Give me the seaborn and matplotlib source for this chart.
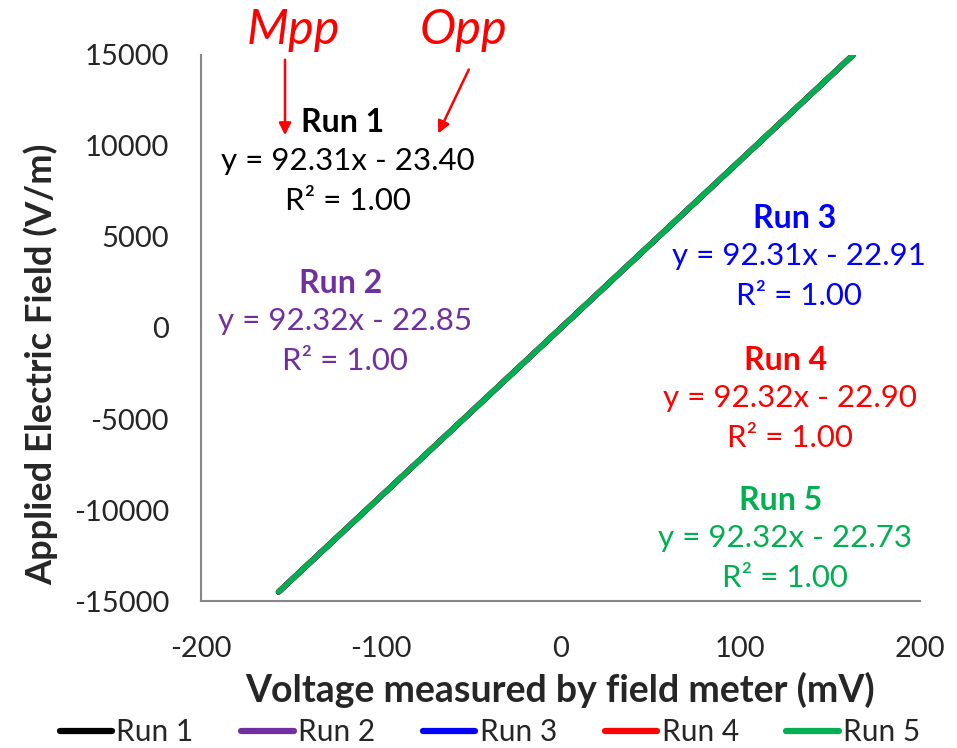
import matplotlib
matplotlib.use("Agg")
import matplotlib.pyplot as plt
import seaborn as sns
import pandas as pd

# ---- data ----
runs = ["Run 1", "Run 2", "Run 3", "Run 4", "Run 5"]
colors = ["#000000", "#7030A0", "#0000FF", "#FF0000", "#00B050"]
applied_field = [-14500, -10000, -5000, 0, 5000, 10000, 15000]
run1_mv = [-156.83, -108.08, -53.91, 0.25, 54.42, 108.58, 162.75]
run2_mv = [-156.82, -108.07, -53.91, 0.25, 54.41, 108.57, 162.72]
run3_mv = [-156.83, -108.08, -53.92, 0.25, 54.41, 108.58, 162.74]
run4_mv = [-156.81, -108.07, -53.91, 0.25, 54.41, 108.57, 162.73]
run5_mv = [-156.81, -108.07, -53.91, 0.25, 54.41, 108.57, 162.72]
equations = ["y = 92.31x - 23.40", "y = 92.32x - 22.85", "y = 92.31x - 22.91",
             "y = 92.32x - 22.90", "y = 92.32x - 22.73"]
r2_text = "R² = 1.00"
x_ticks = [-200, -100, 0, 100, 200]
y_ticks = [-15000, -10000, -5000, 0, 5000, 10000, 15000]

frames = []
for name, mv in zip(runs, [run1_mv, run2_mv, run3_mv, run4_mv, run5_mv]):
    frames.append(pd.DataFrame({"Voltage": mv, "Field": applied_field, "Run": name}))
df = pd.concat(frames, ignore_index=True)

sns.set_style("white")
plt.rcParams["font.family"] = ["Lato", "DejaVu Sans"]
plt.rcParams["axes.unicode_minus"] = False

fig = plt.figure(figsize=(9.57, 7.48), dpi=100)
ax = fig.add_axes([0.210, 0.1965, 0.7513, 0.730])

sns.lineplot(data=df, x="Voltage", y="Field", hue="Run", palette=colors,
             hue_order=runs, sort=False, linewidth=4.0, ax=ax,
             solid_capstyle="round")

ax.set_xlim(-200, 200)
ax.set_ylim(-15000, 15000)
ax.set_xticks(x_ticks)
ax.set_yticks(y_ticks)
ax.tick_params(axis="both", labelsize=21, length=7, width=1.3, color="#868686",
               direction="out")
ax.tick_params(axis="x", pad=18)
ax.tick_params(axis="y", pad=16)
for s in ["top", "right"]:
    ax.spines[s].set_visible(False)
for s in ["left", "bottom"]:
    ax.spines[s].set_color("#868686")
    ax.spines[s].set_linewidth(1.5)

ax.set_xlabel("Voltage measured by field meter (mV)", fontsize=27, fontweight="bold")
ax.set_ylabel("Applied Electric Field (V/m)", fontsize=26, fontweight="bold")
ax.xaxis.set_label_coords(0.5, -0.130)
ax.yaxis.set_label_coords(-0.199, 0.434)

# annotations (data coords): label centre x, label row y
ann = [
    (-118.5, 11300, colors[0]),
    (-120.0, 2470, colors[1]),
    (132.5, 6040, colors[2]),
    (127.5, -1760, colors[3]),
    (125.0, -9450, colors[4]),
]
for (xc, yc, c), name, eq in zip(ann, runs, equations):
    ax.text(xc - 2.5, yc, name, color=c, fontsize=23, fontweight="bold", ha="center", va="center")
    ax.text(xc, yc - 2100, eq, color=c, fontsize=22.5, ha="center", va="center")
    ax.text(xc, yc - 4300, r2_text, color=c, fontsize=22.5, ha="center", va="center")

# Mpp / Opp labels with arrows
fig.text(293 / 957, 1 - 30 / 748, "Mpp", color="#FF0000", fontsize=35, style="italic",
         ha="center", va="center")
fig.text(463 / 957, 1 - 30 / 748, "Opp", color="#FF0000", fontsize=35, style="italic",
         ha="center", va="center")
ax.annotate("", xy=(285 / 957, 1 - 138 / 748), xytext=(285 / 957, 1 - 57 / 748),
            xycoords="figure fraction", textcoords="figure fraction",
            arrowprops=dict(arrowstyle="-|>", color="#FF0000", lw=1.8, mutation_scale=18),
            annotation_clip=False)
ax.annotate("", xy=(437 / 957, 1 - 136 / 748), xytext=(470 / 957, 1 - 67 / 748),
            xycoords="figure fraction", textcoords="figure fraction",
            arrowprops=dict(arrowstyle="-|>", color="#FF0000", lw=1.8, mutation_scale=18),
            annotation_clip=False)

sns.move_legend(ax, "center", bbox_to_anchor=(490 / 957, 1 - 732 / 748), bbox_transform=fig.transFigure,
                ncol=5, frameon=False, title=None, fontsize=21.5, handlelength=1.75,
                handletextpad=0.15, columnspacing=1.6, borderpad=0.1)
for line in ax.get_legend().get_lines():
    line.set_linewidth(4.5)

fig.savefig("out.png", dpi=100)
